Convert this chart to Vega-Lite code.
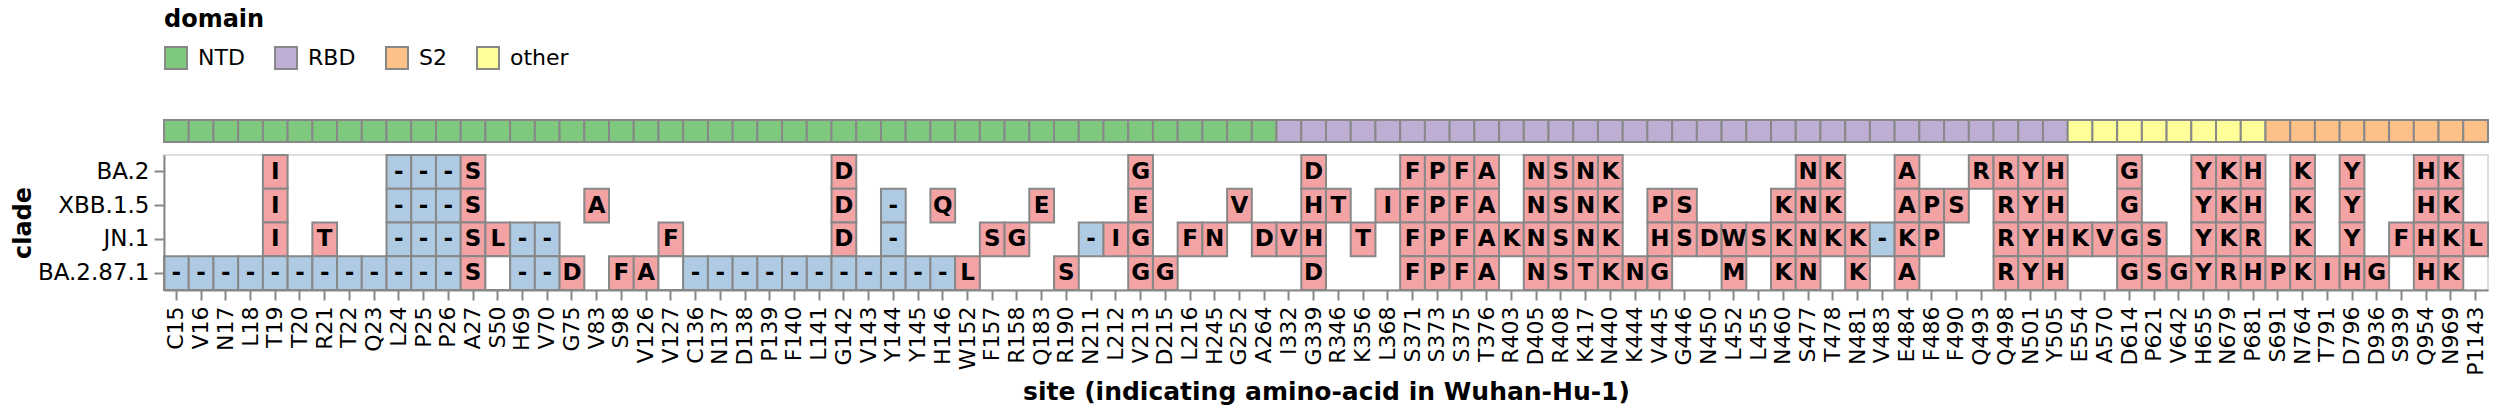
{
  "$schema": "https://vega.github.io/schema/vega-lite/v6.json",
  "padding": {"left": 10, "top": 8, "right": 10, "bottom": 6},
  "config": {
    "font": "DejaVu Sans",
    "view": {"stroke": "#dddddd", "strokeWidth": 2},
    "axis": {
      "labelFontSize": 22, "titleFontSize": 24, "titleFontWeight": "bold",
      "domainColor": "#888888", "domainWidth": 2, "tickColor": "#888888", "tickWidth": 2, "tickSize": 10,
      "labelColor": "#000000", "titleColor": "#000000", "grid": false
    },
    "legend": {
      "labelFontSize": 22, "titleFontSize": 24, "titleFontWeight": "bold", "titleColor": "#000000", "labelColor": "#000000"
    }
  },
  "datasets": {
    "sites": [
      {"site": "C15", "domain": "NTD"}, {"site": "V16", "domain": "NTD"}, {"site": "N17", "domain": "NTD"}, {"site": "L18", "domain": "NTD"}, {"site": "T19", "domain": "NTD"},
      {"site": "T20", "domain": "NTD"}, {"site": "R21", "domain": "NTD"}, {"site": "T22", "domain": "NTD"}, {"site": "Q23", "domain": "NTD"}, {"site": "L24", "domain": "NTD"},
      {"site": "P25", "domain": "NTD"}, {"site": "P26", "domain": "NTD"}, {"site": "A27", "domain": "NTD"}, {"site": "S50", "domain": "NTD"}, {"site": "H69", "domain": "NTD"},
      {"site": "V70", "domain": "NTD"}, {"site": "G75", "domain": "NTD"}, {"site": "V83", "domain": "NTD"}, {"site": "S98", "domain": "NTD"}, {"site": "V126", "domain": "NTD"},
      {"site": "V127", "domain": "NTD"}, {"site": "C136", "domain": "NTD"}, {"site": "N137", "domain": "NTD"}, {"site": "D138", "domain": "NTD"}, {"site": "P139", "domain": "NTD"},
      {"site": "F140", "domain": "NTD"}, {"site": "L141", "domain": "NTD"}, {"site": "G142", "domain": "NTD"}, {"site": "V143", "domain": "NTD"}, {"site": "Y144", "domain": "NTD"},
      {"site": "Y145", "domain": "NTD"}, {"site": "H146", "domain": "NTD"}, {"site": "W152", "domain": "NTD"}, {"site": "F157", "domain": "NTD"}, {"site": "R158", "domain": "NTD"},
      {"site": "Q183", "domain": "NTD"}, {"site": "R190", "domain": "NTD"}, {"site": "N211", "domain": "NTD"}, {"site": "L212", "domain": "NTD"}, {"site": "V213", "domain": "NTD"},
      {"site": "D215", "domain": "NTD"}, {"site": "L216", "domain": "NTD"}, {"site": "H245", "domain": "NTD"}, {"site": "G252", "domain": "NTD"}, {"site": "A264", "domain": "NTD"},
      {"site": "I332", "domain": "RBD"}, {"site": "G339", "domain": "RBD"}, {"site": "R346", "domain": "RBD"}, {"site": "K356", "domain": "RBD"}, {"site": "L368", "domain": "RBD"},
      {"site": "S371", "domain": "RBD"}, {"site": "S373", "domain": "RBD"}, {"site": "S375", "domain": "RBD"}, {"site": "T376", "domain": "RBD"}, {"site": "R403", "domain": "RBD"},
      {"site": "D405", "domain": "RBD"}, {"site": "R408", "domain": "RBD"}, {"site": "K417", "domain": "RBD"}, {"site": "N440", "domain": "RBD"}, {"site": "K444", "domain": "RBD"},
      {"site": "V445", "domain": "RBD"}, {"site": "G446", "domain": "RBD"}, {"site": "N450", "domain": "RBD"}, {"site": "L452", "domain": "RBD"}, {"site": "L455", "domain": "RBD"},
      {"site": "N460", "domain": "RBD"}, {"site": "S477", "domain": "RBD"}, {"site": "T478", "domain": "RBD"}, {"site": "N481", "domain": "RBD"}, {"site": "V483", "domain": "RBD"},
      {"site": "E484", "domain": "RBD"}, {"site": "F486", "domain": "RBD"}, {"site": "F490", "domain": "RBD"}, {"site": "Q493", "domain": "RBD"}, {"site": "Q498", "domain": "RBD"},
      {"site": "N501", "domain": "RBD"}, {"site": "Y505", "domain": "RBD"},
      {"site": "E554", "domain": "other"}, {"site": "A570", "domain": "other"}, {"site": "D614", "domain": "other"}, {"site": "P621", "domain": "other"}, {"site": "V642", "domain": "other"},
      {"site": "H655", "domain": "other"}, {"site": "N679", "domain": "other"}, {"site": "P681", "domain": "other"},
      {"site": "S691", "domain": "S2"}, {"site": "N764", "domain": "S2"}, {"site": "T791", "domain": "S2"}, {"site": "D796", "domain": "S2"}, {"site": "D936", "domain": "S2"},
      {"site": "S939", "domain": "S2"}, {"site": "Q954", "domain": "S2"}, {"site": "N969", "domain": "S2"}, {"site": "P1143", "domain": "S2"}
    ],
    "muts": [
      {"clade": "BA.2", "site": "T19", "aa": "I", "type": "substitution"},
      {"clade": "BA.2", "site": "L24", "aa": "-", "type": "deletion"},
      {"clade": "BA.2", "site": "P25", "aa": "-", "type": "deletion"},
      {"clade": "BA.2", "site": "P26", "aa": "-", "type": "deletion"},
      {"clade": "BA.2", "site": "A27", "aa": "S", "type": "substitution"},
      {"clade": "BA.2", "site": "G142", "aa": "D", "type": "substitution"},
      {"clade": "BA.2", "site": "V213", "aa": "G", "type": "substitution"},
      {"clade": "BA.2", "site": "G339", "aa": "D", "type": "substitution"},
      {"clade": "BA.2", "site": "S371", "aa": "F", "type": "substitution"},
      {"clade": "BA.2", "site": "S373", "aa": "P", "type": "substitution"},
      {"clade": "BA.2", "site": "S375", "aa": "F", "type": "substitution"},
      {"clade": "BA.2", "site": "T376", "aa": "A", "type": "substitution"},
      {"clade": "BA.2", "site": "D405", "aa": "N", "type": "substitution"},
      {"clade": "BA.2", "site": "R408", "aa": "S", "type": "substitution"},
      {"clade": "BA.2", "site": "K417", "aa": "N", "type": "substitution"},
      {"clade": "BA.2", "site": "N440", "aa": "K", "type": "substitution"},
      {"clade": "BA.2", "site": "S477", "aa": "N", "type": "substitution"},
      {"clade": "BA.2", "site": "T478", "aa": "K", "type": "substitution"},
      {"clade": "BA.2", "site": "E484", "aa": "A", "type": "substitution"},
      {"clade": "BA.2", "site": "Q493", "aa": "R", "type": "substitution"},
      {"clade": "BA.2", "site": "Q498", "aa": "R", "type": "substitution"},
      {"clade": "BA.2", "site": "N501", "aa": "Y", "type": "substitution"},
      {"clade": "BA.2", "site": "Y505", "aa": "H", "type": "substitution"},
      {"clade": "BA.2", "site": "D614", "aa": "G", "type": "substitution"},
      {"clade": "BA.2", "site": "H655", "aa": "Y", "type": "substitution"},
      {"clade": "BA.2", "site": "N679", "aa": "K", "type": "substitution"},
      {"clade": "BA.2", "site": "P681", "aa": "H", "type": "substitution"},
      {"clade": "BA.2", "site": "N764", "aa": "K", "type": "substitution"},
      {"clade": "BA.2", "site": "D796", "aa": "Y", "type": "substitution"},
      {"clade": "BA.2", "site": "Q954", "aa": "H", "type": "substitution"},
      {"clade": "BA.2", "site": "N969", "aa": "K", "type": "substitution"},

      {"clade": "XBB.1.5", "site": "T19", "aa": "I", "type": "substitution"},
      {"clade": "XBB.1.5", "site": "L24", "aa": "-", "type": "deletion"},
      {"clade": "XBB.1.5", "site": "P25", "aa": "-", "type": "deletion"},
      {"clade": "XBB.1.5", "site": "P26", "aa": "-", "type": "deletion"},
      {"clade": "XBB.1.5", "site": "A27", "aa": "S", "type": "substitution"},
      {"clade": "XBB.1.5", "site": "V83", "aa": "A", "type": "substitution"},
      {"clade": "XBB.1.5", "site": "G142", "aa": "D", "type": "substitution"},
      {"clade": "XBB.1.5", "site": "Y144", "aa": "-", "type": "deletion"},
      {"clade": "XBB.1.5", "site": "H146", "aa": "Q", "type": "substitution"},
      {"clade": "XBB.1.5", "site": "Q183", "aa": "E", "type": "substitution"},
      {"clade": "XBB.1.5", "site": "V213", "aa": "E", "type": "substitution"},
      {"clade": "XBB.1.5", "site": "G252", "aa": "V", "type": "substitution"},
      {"clade": "XBB.1.5", "site": "G339", "aa": "H", "type": "substitution"},
      {"clade": "XBB.1.5", "site": "R346", "aa": "T", "type": "substitution"},
      {"clade": "XBB.1.5", "site": "L368", "aa": "I", "type": "substitution"},
      {"clade": "XBB.1.5", "site": "S371", "aa": "F", "type": "substitution"},
      {"clade": "XBB.1.5", "site": "S373", "aa": "P", "type": "substitution"},
      {"clade": "XBB.1.5", "site": "S375", "aa": "F", "type": "substitution"},
      {"clade": "XBB.1.5", "site": "T376", "aa": "A", "type": "substitution"},
      {"clade": "XBB.1.5", "site": "D405", "aa": "N", "type": "substitution"},
      {"clade": "XBB.1.5", "site": "R408", "aa": "S", "type": "substitution"},
      {"clade": "XBB.1.5", "site": "K417", "aa": "N", "type": "substitution"},
      {"clade": "XBB.1.5", "site": "N440", "aa": "K", "type": "substitution"},
      {"clade": "XBB.1.5", "site": "V445", "aa": "P", "type": "substitution"},
      {"clade": "XBB.1.5", "site": "G446", "aa": "S", "type": "substitution"},
      {"clade": "XBB.1.5", "site": "N460", "aa": "K", "type": "substitution"},
      {"clade": "XBB.1.5", "site": "S477", "aa": "N", "type": "substitution"},
      {"clade": "XBB.1.5", "site": "T478", "aa": "K", "type": "substitution"},
      {"clade": "XBB.1.5", "site": "E484", "aa": "A", "type": "substitution"},
      {"clade": "XBB.1.5", "site": "F486", "aa": "P", "type": "substitution"},
      {"clade": "XBB.1.5", "site": "F490", "aa": "S", "type": "substitution"},
      {"clade": "XBB.1.5", "site": "Q498", "aa": "R", "type": "substitution"},
      {"clade": "XBB.1.5", "site": "N501", "aa": "Y", "type": "substitution"},
      {"clade": "XBB.1.5", "site": "Y505", "aa": "H", "type": "substitution"},
      {"clade": "XBB.1.5", "site": "D614", "aa": "G", "type": "substitution"},
      {"clade": "XBB.1.5", "site": "H655", "aa": "Y", "type": "substitution"},
      {"clade": "XBB.1.5", "site": "N679", "aa": "K", "type": "substitution"},
      {"clade": "XBB.1.5", "site": "P681", "aa": "H", "type": "substitution"},
      {"clade": "XBB.1.5", "site": "N764", "aa": "K", "type": "substitution"},
      {"clade": "XBB.1.5", "site": "D796", "aa": "Y", "type": "substitution"},
      {"clade": "XBB.1.5", "site": "Q954", "aa": "H", "type": "substitution"},
      {"clade": "XBB.1.5", "site": "N969", "aa": "K", "type": "substitution"},

      {"clade": "JN.1", "site": "T19", "aa": "I", "type": "substitution"},
      {"clade": "JN.1", "site": "R21", "aa": "T", "type": "substitution"},
      {"clade": "JN.1", "site": "L24", "aa": "-", "type": "deletion"},
      {"clade": "JN.1", "site": "P25", "aa": "-", "type": "deletion"},
      {"clade": "JN.1", "site": "P26", "aa": "-", "type": "deletion"},
      {"clade": "JN.1", "site": "A27", "aa": "S", "type": "substitution"},
      {"clade": "JN.1", "site": "S50", "aa": "L", "type": "substitution"},
      {"clade": "JN.1", "site": "H69", "aa": "-", "type": "deletion"},
      {"clade": "JN.1", "site": "V70", "aa": "-", "type": "deletion"},
      {"clade": "JN.1", "site": "V127", "aa": "F", "type": "substitution"},
      {"clade": "JN.1", "site": "G142", "aa": "D", "type": "substitution"},
      {"clade": "JN.1", "site": "Y144", "aa": "-", "type": "deletion"},
      {"clade": "JN.1", "site": "F157", "aa": "S", "type": "substitution"},
      {"clade": "JN.1", "site": "R158", "aa": "G", "type": "substitution"},
      {"clade": "JN.1", "site": "N211", "aa": "-", "type": "deletion"},
      {"clade": "JN.1", "site": "L212", "aa": "I", "type": "substitution"},
      {"clade": "JN.1", "site": "V213", "aa": "G", "type": "substitution"},
      {"clade": "JN.1", "site": "L216", "aa": "F", "type": "substitution"},
      {"clade": "JN.1", "site": "H245", "aa": "N", "type": "substitution"},
      {"clade": "JN.1", "site": "A264", "aa": "D", "type": "substitution"},
      {"clade": "JN.1", "site": "I332", "aa": "V", "type": "substitution"},
      {"clade": "JN.1", "site": "G339", "aa": "H", "type": "substitution"},
      {"clade": "JN.1", "site": "K356", "aa": "T", "type": "substitution"},
      {"clade": "JN.1", "site": "S371", "aa": "F", "type": "substitution"},
      {"clade": "JN.1", "site": "S373", "aa": "P", "type": "substitution"},
      {"clade": "JN.1", "site": "S375", "aa": "F", "type": "substitution"},
      {"clade": "JN.1", "site": "T376", "aa": "A", "type": "substitution"},
      {"clade": "JN.1", "site": "R403", "aa": "K", "type": "substitution"},
      {"clade": "JN.1", "site": "D405", "aa": "N", "type": "substitution"},
      {"clade": "JN.1", "site": "R408", "aa": "S", "type": "substitution"},
      {"clade": "JN.1", "site": "K417", "aa": "N", "type": "substitution"},
      {"clade": "JN.1", "site": "N440", "aa": "K", "type": "substitution"},
      {"clade": "JN.1", "site": "V445", "aa": "H", "type": "substitution"},
      {"clade": "JN.1", "site": "G446", "aa": "S", "type": "substitution"},
      {"clade": "JN.1", "site": "N450", "aa": "D", "type": "substitution"},
      {"clade": "JN.1", "site": "L452", "aa": "W", "type": "substitution"},
      {"clade": "JN.1", "site": "L455", "aa": "S", "type": "substitution"},
      {"clade": "JN.1", "site": "N460", "aa": "K", "type": "substitution"},
      {"clade": "JN.1", "site": "S477", "aa": "N", "type": "substitution"},
      {"clade": "JN.1", "site": "T478", "aa": "K", "type": "substitution"},
      {"clade": "JN.1", "site": "N481", "aa": "K", "type": "substitution"},
      {"clade": "JN.1", "site": "V483", "aa": "-", "type": "deletion"},
      {"clade": "JN.1", "site": "E484", "aa": "K", "type": "substitution"},
      {"clade": "JN.1", "site": "F486", "aa": "P", "type": "substitution"},
      {"clade": "JN.1", "site": "Q498", "aa": "R", "type": "substitution"},
      {"clade": "JN.1", "site": "N501", "aa": "Y", "type": "substitution"},
      {"clade": "JN.1", "site": "Y505", "aa": "H", "type": "substitution"},
      {"clade": "JN.1", "site": "E554", "aa": "K", "type": "substitution"},
      {"clade": "JN.1", "site": "A570", "aa": "V", "type": "substitution"},
      {"clade": "JN.1", "site": "D614", "aa": "G", "type": "substitution"},
      {"clade": "JN.1", "site": "P621", "aa": "S", "type": "substitution"},
      {"clade": "JN.1", "site": "H655", "aa": "Y", "type": "substitution"},
      {"clade": "JN.1", "site": "N679", "aa": "K", "type": "substitution"},
      {"clade": "JN.1", "site": "P681", "aa": "R", "type": "substitution"},
      {"clade": "JN.1", "site": "N764", "aa": "K", "type": "substitution"},
      {"clade": "JN.1", "site": "D796", "aa": "Y", "type": "substitution"},
      {"clade": "JN.1", "site": "S939", "aa": "F", "type": "substitution"},
      {"clade": "JN.1", "site": "Q954", "aa": "H", "type": "substitution"},
      {"clade": "JN.1", "site": "N969", "aa": "K", "type": "substitution"},
      {"clade": "JN.1", "site": "P1143", "aa": "L", "type": "substitution"},

      {"clade": "BA.2.87.1", "site": "C15", "aa": "-", "type": "deletion"},
      {"clade": "BA.2.87.1", "site": "V16", "aa": "-", "type": "deletion"},
      {"clade": "BA.2.87.1", "site": "N17", "aa": "-", "type": "deletion"},
      {"clade": "BA.2.87.1", "site": "L18", "aa": "-", "type": "deletion"},
      {"clade": "BA.2.87.1", "site": "T19", "aa": "-", "type": "deletion"},
      {"clade": "BA.2.87.1", "site": "T20", "aa": "-", "type": "deletion"},
      {"clade": "BA.2.87.1", "site": "R21", "aa": "-", "type": "deletion"},
      {"clade": "BA.2.87.1", "site": "T22", "aa": "-", "type": "deletion"},
      {"clade": "BA.2.87.1", "site": "Q23", "aa": "-", "type": "deletion"},
      {"clade": "BA.2.87.1", "site": "L24", "aa": "-", "type": "deletion"},
      {"clade": "BA.2.87.1", "site": "P25", "aa": "-", "type": "deletion"},
      {"clade": "BA.2.87.1", "site": "P26", "aa": "-", "type": "deletion"},
      {"clade": "BA.2.87.1", "site": "A27", "aa": "S", "type": "substitution"},
      {"clade": "BA.2.87.1", "site": "S50", "aa": "", "type": "none"},
      {"clade": "BA.2.87.1", "site": "H69", "aa": "-", "type": "deletion"},
      {"clade": "BA.2.87.1", "site": "V70", "aa": "-", "type": "deletion"},
      {"clade": "BA.2.87.1", "site": "G75", "aa": "D", "type": "substitution"},
      {"clade": "BA.2.87.1", "site": "S98", "aa": "F", "type": "substitution"},
      {"clade": "BA.2.87.1", "site": "V126", "aa": "A", "type": "substitution"},
      {"clade": "BA.2.87.1", "site": "V127", "aa": "", "type": "none"},
      {"clade": "BA.2.87.1", "site": "C136", "aa": "-", "type": "deletion"},
      {"clade": "BA.2.87.1", "site": "N137", "aa": "-", "type": "deletion"},
      {"clade": "BA.2.87.1", "site": "D138", "aa": "-", "type": "deletion"},
      {"clade": "BA.2.87.1", "site": "P139", "aa": "-", "type": "deletion"},
      {"clade": "BA.2.87.1", "site": "F140", "aa": "-", "type": "deletion"},
      {"clade": "BA.2.87.1", "site": "L141", "aa": "-", "type": "deletion"},
      {"clade": "BA.2.87.1", "site": "G142", "aa": "-", "type": "deletion"},
      {"clade": "BA.2.87.1", "site": "V143", "aa": "-", "type": "deletion"},
      {"clade": "BA.2.87.1", "site": "Y144", "aa": "-", "type": "deletion"},
      {"clade": "BA.2.87.1", "site": "Y145", "aa": "-", "type": "deletion"},
      {"clade": "BA.2.87.1", "site": "H146", "aa": "-", "type": "deletion"},
      {"clade": "BA.2.87.1", "site": "W152", "aa": "L", "type": "substitution"},
      {"clade": "BA.2.87.1", "site": "R190", "aa": "S", "type": "substitution"},
      {"clade": "BA.2.87.1", "site": "V213", "aa": "G", "type": "substitution"},
      {"clade": "BA.2.87.1", "site": "D215", "aa": "G", "type": "substitution"},
      {"clade": "BA.2.87.1", "site": "G339", "aa": "D", "type": "substitution"},
      {"clade": "BA.2.87.1", "site": "S371", "aa": "F", "type": "substitution"},
      {"clade": "BA.2.87.1", "site": "S373", "aa": "P", "type": "substitution"},
      {"clade": "BA.2.87.1", "site": "S375", "aa": "F", "type": "substitution"},
      {"clade": "BA.2.87.1", "site": "T376", "aa": "A", "type": "substitution"},
      {"clade": "BA.2.87.1", "site": "D405", "aa": "N", "type": "substitution"},
      {"clade": "BA.2.87.1", "site": "R408", "aa": "S", "type": "substitution"},
      {"clade": "BA.2.87.1", "site": "K417", "aa": "T", "type": "substitution"},
      {"clade": "BA.2.87.1", "site": "N440", "aa": "K", "type": "substitution"},
      {"clade": "BA.2.87.1", "site": "K444", "aa": "N", "type": "substitution"},
      {"clade": "BA.2.87.1", "site": "V445", "aa": "G", "type": "substitution"},
      {"clade": "BA.2.87.1", "site": "L452", "aa": "M", "type": "substitution"},
      {"clade": "BA.2.87.1", "site": "N460", "aa": "K", "type": "substitution"},
      {"clade": "BA.2.87.1", "site": "S477", "aa": "N", "type": "substitution"},
      {"clade": "BA.2.87.1", "site": "N481", "aa": "K", "type": "substitution"},
      {"clade": "BA.2.87.1", "site": "E484", "aa": "A", "type": "substitution"},
      {"clade": "BA.2.87.1", "site": "Q498", "aa": "R", "type": "substitution"},
      {"clade": "BA.2.87.1", "site": "N501", "aa": "Y", "type": "substitution"},
      {"clade": "BA.2.87.1", "site": "Y505", "aa": "H", "type": "substitution"},
      {"clade": "BA.2.87.1", "site": "D614", "aa": "G", "type": "substitution"},
      {"clade": "BA.2.87.1", "site": "P621", "aa": "S", "type": "substitution"},
      {"clade": "BA.2.87.1", "site": "V642", "aa": "G", "type": "substitution"},
      {"clade": "BA.2.87.1", "site": "H655", "aa": "Y", "type": "substitution"},
      {"clade": "BA.2.87.1", "site": "N679", "aa": "R", "type": "substitution"},
      {"clade": "BA.2.87.1", "site": "P681", "aa": "H", "type": "substitution"},
      {"clade": "BA.2.87.1", "site": "S691", "aa": "P", "type": "substitution"},
      {"clade": "BA.2.87.1", "site": "N764", "aa": "K", "type": "substitution"},
      {"clade": "BA.2.87.1", "site": "T791", "aa": "I", "type": "substitution"},
      {"clade": "BA.2.87.1", "site": "D796", "aa": "H", "type": "substitution"},
      {"clade": "BA.2.87.1", "site": "D936", "aa": "G", "type": "substitution"},
      {"clade": "BA.2.87.1", "site": "Q954", "aa": "H", "type": "substitution"},
      {"clade": "BA.2.87.1", "site": "N969", "aa": "K", "type": "substitution"}
    ]
  },
  "vconcat": [
    {
      "width": 2324,
      "height": 22,
      "view": {"stroke": null},
      "data": {"name": "sites"},
      "mark": {"type": "rect", "stroke": "#888888", "strokeWidth": 2},
      "encoding": {
        "x": {"field": "site", "type": "nominal", "sort": null, "axis": null},
        "color": {
          "field": "domain", "type": "nominal", "title": "domain",
          "scale": {"domain": ["NTD", "RBD", "S2", "other"], "range": ["#7fc97f", "#beaed4", "#fdc086", "#ffff99"]},
          "legend": {
            "orient": "top", "direction": "horizontal", "symbolType": "square", "symbolSize": 484,
            "symbolStrokeColor": "#888888", "symbolStrokeWidth": 2, "symbolOpacity": 1,
            "labelOffset": 10, "columnPadding": 26, "titlePadding": 14, "offset": 46
          }
        }
      }
    },
    {
      "width": 2324,
      "height": 135,
      "data": {"name": "muts"},
      "encoding": {
        "x": {
          "field": "site", "type": "nominal",
          "title": "site (indicating amino-acid in Wuhan-Hu-1)",
          "scale": {"domain": ["C15","V16","N17","L18","T19","T20","R21","T22","Q23","L24","P25","P26","A27","S50","H69","V70","G75","V83","S98","V126","V127","C136","N137","D138","P139","F140","L141","G142","V143","Y144","Y145","H146","W152","F157","R158","Q183","R190","N211","L212","V213","D215","L216","H245","G252","A264","I332","G339","R346","K356","L368","S371","S373","S375","T376","R403","D405","R408","K417","N440","K444","V445","G446","N450","L452","L455","N460","S477","T478","N481","V483","E484","F486","F490","Q493","Q498","N501","Y505","E554","A570","D614","P621","V642","H655","N679","P681","S691","N764","T791","D796","D936","S939","Q954","N969","P1143"]},
          "axis": {"labelAngle": -90, "labelPadding": 6, "titlePadding": 4, "titleFontSize": 25}
        },
        "y": {
          "field": "clade", "type": "nominal", "title": "clade",
          "scale": {"domain": ["BA.2", "XBB.1.5", "JN.1", "BA.2.87.1"]},
          "axis": {"labelPadding": 5, "titlePadding": 2, "labelFontSize": 23}
        }
      },
      "layer": [
        {
          "mark": {"type": "rect", "stroke": "#888888", "strokeWidth": 2},
          "encoding": {
            "fill": {
              "field": "type", "type": "nominal", "legend": null,
              "scale": {"domain": ["substitution", "deletion", "none"], "range": ["#f4a3a4", "#afcbe3", "#ffffff"]}
            }
          }
        },
        {
          "mark": {"type": "text", "fontWeight": "bold", "fontSize": 23, "color": "#000000"},
          "encoding": {"text": {"field": "aa", "type": "nominal"}}
        }
      ]
    }
  ],
  "spacing": 10
}
